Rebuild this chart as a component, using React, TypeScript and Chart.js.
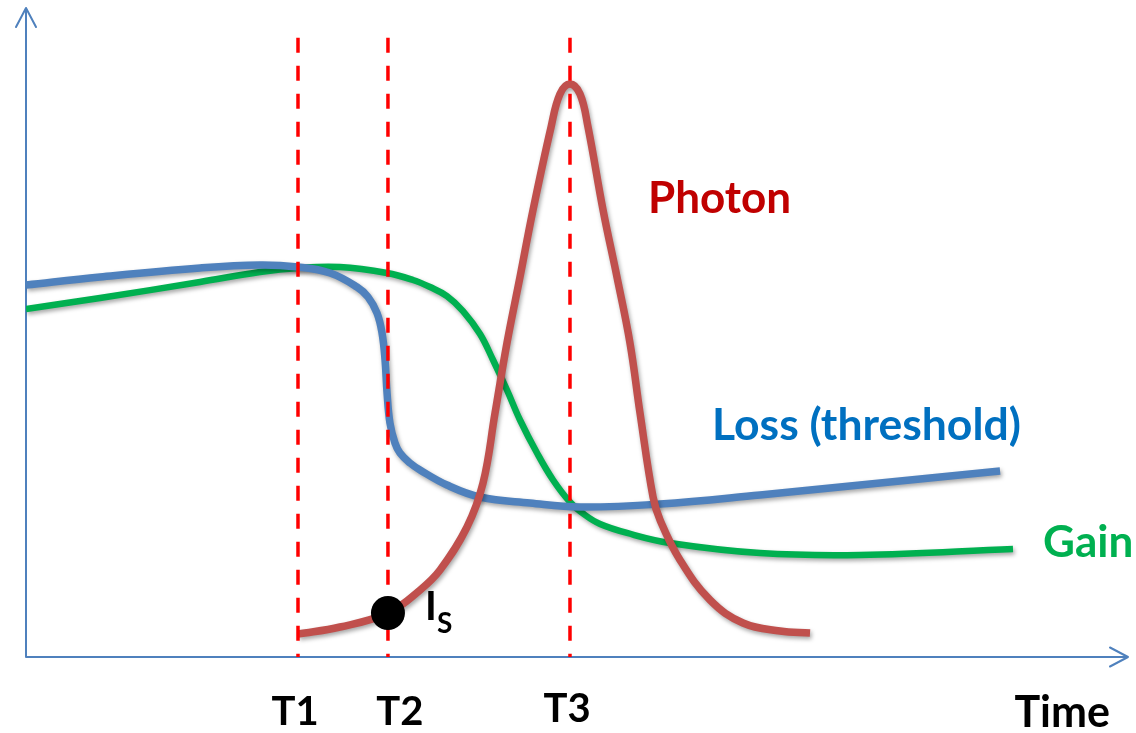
import React, { useEffect, useRef } from 'react';
import { Chart, registerables } from 'chart.js';

Chart.register(...registerables);

// Characteristic instants on the time axis
const MARK_TIMES = [27.15, 36.13, 54.3];
const MARK_LABELS = ['T1', 'T2', 'T3'];
const MARK_TOP = 95.4;

// Loss (threshold)
const LOSS_T = [0, 7.39, 17.37, 23.36, 27.15, 30.35, 33.04, 34.14, 35.04, 35.54, 35.84, 36.04, 36.33, 36.83, 37.33, 38.33, 39.33, 42.02, 45.32, 50.31, 55.3, 63.29, 73.27, 83.25, 97.23];
const LOSS_V = [57.32, 58.55, 59.94, 60.4, 60.09, 59.17, 57.01, 55.47, 53.0, 49.92, 45.76, 40.68, 36.06, 32.97, 31.43, 29.89, 28.81, 26.5, 24.65, 23.73, 23.11, 23.57, 24.96, 26.5, 28.66];

// Gain
const GAIN_T = [0, 7.39, 17.37, 23.36, 27.15, 31.34, 36.04, 38.63, 40.33, 42.02, 43.62, 45.32, 46.62, 48.01, 49.31, 51.01, 52.61, 54.3, 55.8, 57.3, 59.99, 64.28, 73.27, 83.25, 98.52];
const GAIN_V = [53.62, 55.32, 57.78, 59.32, 59.94, 60.09, 59.17, 58.09, 57.01, 55.62, 53.31, 49.77, 45.76, 41.14, 36.52, 31.43, 27.27, 23.88, 21.88, 20.49, 19.11, 17.57, 16.02, 15.72, 16.64];

// Photon density
const PHOTON_T = [27.15, 31.34, 36.13, 39.33, 41.33, 44.02, 45.62, 46.82, 48.01, 49.31, 50.61, 52.41, 53.3, 54.3, 55.3, 56.1, 57.6, 58.99, 60.29, 61.29, 62.59, 63.29, 65.28, 68.28, 71.57, 75.26, 78.26];
const PHOTON_V = [3.54, 4.62, 6.78, 10.32, 13.41, 20.03, 26.81, 37.6, 48.38, 58.55, 68.88, 81.66, 86.75, 88.29, 86.75, 81.66, 68.88, 58.55, 48.38, 37.6, 24.65, 21.11, 14.95, 8.78, 5.24, 4.01, 3.7];

// Index of the photon sample at T2 (the I_S point)
const IS_INDEX = 2;

const AXIS_COLOR = '#4F81BD';
const FONT = 'Lato, "Open Sans", sans-serif';

const pts = (xs: number[], ys: number[]) => xs.map((x, i) => ({ x, y: ys[i] }));

type TextItem = {
  text: string;
  x: number;
  y: number;
  color: string;
  size: number;
  align: CanvasTextAlign;
  dx?: number;
};

const TEXTS: TextItem[] = [
  { text: 'Photon', x: 62.09, y: 68.41, color: '#C00000', size: 44, align: 'left' },
  { text: 'Loss (threshold)', x: 68.48, y: 33.44, color: '#0070C0', size: 44.5, align: 'left' },
  { text: 'Gain', x: 101.52, y: 15.41, color: '#00B050', size: 44, align: 'left' },
  { text: 'Time', x: 108.2, y: -10.79, color: '#000000', size: 43, align: 'right' },
  { text: MARK_LABELS[0], x: MARK_TIMES[0], y: -10.48, color: '#000000', size: 40, align: 'center', dx: -3 },
  { text: MARK_LABELS[1], x: MARK_TIMES[1], y: -10.48, color: '#000000', size: 40, align: 'center', dx: 12 },
  { text: MARK_LABELS[2], x: MARK_TIMES[2], y: -10.02, color: '#000000', size: 40, align: 'center', dx: -3 },
  { text: 'I', x: 39.83, y: 5.7, color: '#000000', size: 40, align: 'left' },
  { text: 'S', x: 41.03, y: 3.7, color: '#000000', size: 28, align: 'left' },
];

const axesPlugin = {
  id: 'arrowAxes',
  beforeDatasetsDraw(chart: any) {
    const { ctx, chartArea, scales } = chart;
    const x0 = scales.x.getPixelForValue(0);
    const y0 = scales.y.getPixelForValue(0);
    ctx.save();
    ctx.strokeStyle = AXIS_COLOR;
    ctx.lineWidth = 2;
    ctx.lineCap = 'round';
    ctx.lineJoin = 'round';
    ctx.beginPath();
    ctx.moveTo(x0, y0);
    ctx.lineTo(x0, chartArea.top);
    ctx.moveTo(x0 - 10, chartArea.top + 19);
    ctx.lineTo(x0, chartArea.top);
    ctx.lineTo(x0 + 10, chartArea.top + 19);
    ctx.moveTo(x0, y0);
    ctx.lineTo(chartArea.right, y0);
    ctx.moveTo(chartArea.right - 18, y0 - 9.5);
    ctx.lineTo(chartArea.right, y0);
    ctx.lineTo(chartArea.right - 18, y0 + 9.5);
    ctx.stroke();
    ctx.restore();
  },
};

const shadowPlugin = {
  id: 'curveShadow',
  beforeDatasetDraw(chart: any, args: any) {
    const ds = chart.data.datasets[args.index];
    if (!ds.shadow) return;
    const ctx = chart.ctx;
    ctx.save();
    ctx.shadowColor = 'rgba(0,0,0,0.35)';
    ctx.shadowBlur = 4;
    ctx.shadowOffsetX = 1.5;
    ctx.shadowOffsetY = 2.5;
  },
  afterDatasetDraw(chart: any, args: any) {
    const ds = chart.data.datasets[args.index];
    if (!ds.shadow) return;
    chart.ctx.restore();
  },
};

const textPlugin = {
  id: 'diagramText',
  afterDraw(chart: any) {
    const { ctx, scales } = chart;
    ctx.save();
    ctx.textBaseline = 'alphabetic';
    for (const t of TEXTS) {
      ctx.font = `bold ${t.size}px ${FONT}`;
      ctx.fillStyle = t.color;
      ctx.textAlign = t.align;
      ctx.fillText(t.text, scales.x.getPixelForValue(t.x) + (t.dx || 0), scales.y.getPixelForValue(t.y));
    }
    ctx.restore();
  },
};

export default function App() {
  const canvasRef = useRef<HTMLCanvasElement | null>(null);

  useEffect(() => {
    const canvas = canvasRef.current;
    if (!canvas) return;

    // Smooth curves: Chart.js' spline with tension follows the path in both directions,
    // which keeps the near-vertical drop of the loss curve free of corners.
    const curve = (data: { x: number; y: number }[], color: string, width: number, order: number) => ({
      data,
      borderColor: color,
      borderWidth: width,
      pointRadius: 0,
      tension: 0.4,
      capBezierPoints: false,
      fill: false,
      order,
      shadow: true,
    });

    const markLines = MARK_TIMES.map((t) => ({
      data: [
        { x: t, y: MARK_TOP },
        { x: t, y: 0 },
      ],
      borderColor: '#FF0000',
      borderWidth: 3.5,
      borderDash: [15, 13],
      borderCapStyle: 'butt' as const,
      pointRadius: 0,
      tension: 0,
      fill: false,
      order: 1,
    }));

    const chart = new Chart(canvas, {
      type: 'line',
      data: {
        datasets: [
          {
            data: [{ x: PHOTON_T[IS_INDEX], y: PHOTON_V[IS_INDEX] }],
            showLine: false,
            pointRadius: 17,
            pointBackgroundColor: '#000000',
            pointBorderWidth: 0,
            order: 0,
          } as any,
          ...markLines,
          curve(pts(PHOTON_T, PHOTON_V), '#C0504D', 7.5, 2),
          curve(pts(LOSS_T, LOSS_V), '#4F81BD', 7.5, 3),
          curve(pts(GAIN_T, GAIN_V), '#00B050', 6.5, 4),
        ] as any,
      },
      options: {
        animation: false,
        responsive: false,
        devicePixelRatio: 1,
        layout: { autoPadding: false, padding: { left: 26, right: 8, top: 8, bottom: 76 } },
        plugins: {
          legend: { display: false },
          tooltip: { enabled: false },
        },
        events: [],
        scales: {
          x: { type: 'linear', min: 0, max: 110, display: false },
          y: { type: 'linear', min: 0, max: 100, display: false },
        },
      },
      plugins: [axesPlugin, shadowPlugin, textPlugin],
    });

    return () => chart.destroy();
  }, []);

  return (
    <div style={{ position: 'absolute', left: 0, top: 0, width: 1136, height: 733, background: '#ffffff' }}>
      <canvas ref={canvasRef} width={1136} height={733} />
    </div>
  );
}
